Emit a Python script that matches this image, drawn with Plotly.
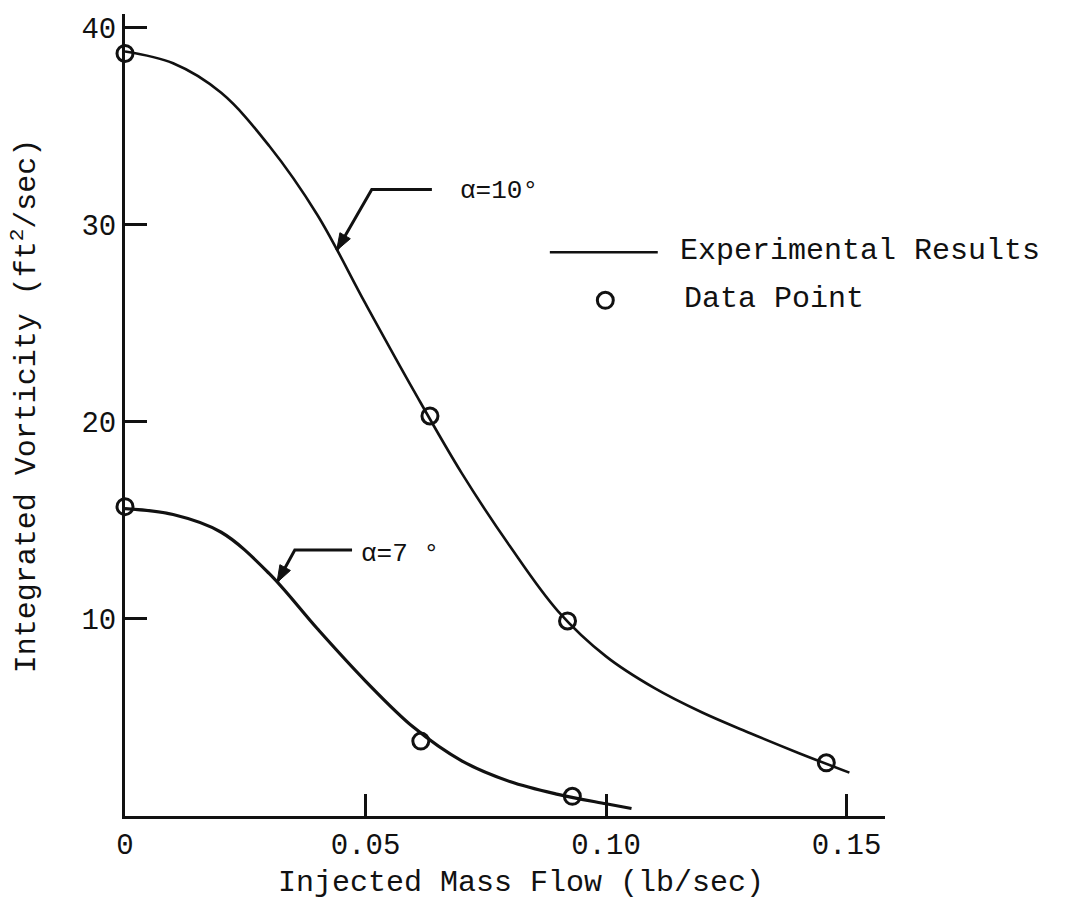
import math
import plotly.graph_objects as go

# Smoothed experimental curves (integrated vorticity vs injected mass flow)
flow_a10 = [0.0, 0.01, 0.02, 0.03, 0.04, 0.05, 0.06, 0.07, 0.08,
            0.09, 0.10, 0.11, 0.12, 0.13, 0.14, 0.1506]
vort_a10 = [38.8, 38.2, 36.7, 34.0, 30.5, 26.0, 21.6, 17.4, 13.7,
            10.4, 8.1, 6.5, 5.25, 4.2, 3.2, 2.2]

flow_a7 = [0.0, 0.01, 0.02, 0.03, 0.04, 0.05, 0.06, 0.07, 0.08,
           0.09, 0.10, 0.1053]
vort_a7 = [15.6, 15.3, 14.4, 12.3, 9.5, 6.85, 4.5, 2.8, 1.75,
           1.1, 0.62, 0.38]

# Measured data points
pts_flow_a10 = [0.0, 0.0634, 0.0920, 0.1458]
pts_vort_a10 = [38.7, 20.3, 9.9, 2.7]
pts_flow_a7 = [0.0, 0.0615, 0.0930]
pts_vort_a7 = [15.7, 3.8, 1.0]

# Axis ticks
x_ticks = [0.0, 0.05, 0.10, 0.15]
x_tick_text = ["0", "0.05", "0.10", "0.15"]
y_ticks = [10, 20, 30, 40]
y_tick_text = ["10", "20", "30", "40"]

# Curve labels: arrow tip on the curve, elbow of the leader, end of the leader, label position
labels = [
    dict(text="α=10°", tip=(0.0440, 28.7), elbow=(0.0513, 31.8), end=(0.0638, 31.8), tx=0.0692, ty=31.7),
    dict(text="α=7 °", tip=(0.0316, 11.85), elbow=(0.0353, 13.5), end=(0.0472, 13.5), tx=0.0486, ty=13.3),
]

X_RANGE = [0, 0.158]
Y_RANGE = [0, 40.7]
W, H = 1075, 905
M = dict(l=125, r=190, t=14, b=89)
PLOT_W = W - M["l"] - M["r"]
PLOT_H = H - M["t"] - M["b"]
SX = PLOT_W / (X_RANGE[1] - X_RANGE[0])   # px per x unit
SY = PLOT_H / (Y_RANGE[1] - Y_RANGE[0])   # px per y unit

MONO = "Courier New, Liberation Mono, monospace"
INK = "#111111"

fig = go.Figure()

for fx, vy, w in [(flow_a10, vort_a10, 2.6), (flow_a7, vort_a7, 3.2)]:
    fig.add_trace(go.Scatter(
        x=fx, y=vy, mode="lines", line=dict(color=INK, width=w, shape="spline", smoothing=1.0),
        showlegend=False, cliponaxis=False, hoverinfo="skip"))

for fx, vy in [(pts_flow_a10, pts_vort_a10), (pts_flow_a7, pts_vort_a7)]:
    fig.add_trace(go.Scatter(
        x=fx, y=vy, mode="markers",
        marker=dict(symbol="circle-open", size=16, color=INK, line=dict(width=3, color=INK)),
        showlegend=False, cliponaxis=False))

annotations = []
shapes = []
for lab in labels:
    (tx_, ty_), (ex, ey), (nx, ny) = lab["tip"], lab["elbow"], lab["end"]
    # bent leader line: end -> elbow -> tip
    shapes.append(dict(type="path", xref="x", yref="y",
                       path=f"M {nx},{ny} L {ex},{ey} L {tx_},{ty_}",
                       line=dict(color=INK, width=3)))
    # filled arrowhead, sized in screen pixels
    dxp = (tx_ - ex) * SX
    dyp = (ty_ - ey) * SY
    n = math.hypot(dxp, dyp)
    ux, uy = dxp / n, dyp / n
    L, half = 17, 6
    bx, by = -ux * L, -uy * L
    px_, py_ = -uy * half, ux * half
    p1 = (tx_ + (bx + px_) / SX, ty_ + (by + py_) / SY)
    p2 = (tx_ + (bx - px_) / SX, ty_ + (by - py_) / SY)
    shapes.append(dict(type="path", xref="x", yref="y",
                       path=f"M {tx_},{ty_} L {p1[0]},{p1[1]} L {p2[0]},{p2[1]} Z",
                       fillcolor=INK, line=dict(color=INK, width=1)))
    annotations.append(dict(
        x=lab["tx"], y=lab["ty"], xref="x", yref="y", text=lab["text"], showarrow=False,
        xanchor="left", yanchor="middle", font=dict(family=MONO, size=26, color=INK)))

# Key beside the curves
shapes.append(dict(type="line", xref="paper", yref="paper", x0=0.559, x1=0.701, y0=0.703, y1=0.703,
                   line=dict(color=INK, width=2.5)))
shapes.append(dict(type="circle", xref="paper", yref="paper", x0=0.6215, x1=0.6425, y0=0.633, y1=0.653,
                   line=dict(color=INK, width=3)))
annotations.append(dict(x=0.728, y=0.705, xref="paper", yref="paper", text="Experimental Results",
                        showarrow=False, xanchor="left", yanchor="middle",
                        font=dict(family=MONO, size=30, color=INK)))
annotations.append(dict(x=0.733, y=0.645, xref="paper", yref="paper", text="Data Point",
                        showarrow=False, xanchor="left", yanchor="middle",
                        font=dict(family=MONO, size=30, color=INK)))

# Axis titles
annotations.append(dict(x=0.521, y=-0.0835, xref="paper", yref="paper",
                        text="Injected Mass Flow (lb/sec)", showarrow=False,
                        xanchor="center", yanchor="middle",
                        font=dict(family=MONO, size=30, color=INK)))
annotations.append(dict(x=-0.1316, y=0.512, xref="paper", yref="paper",
                        text="Integrated Vorticity (ft<sup>2</sup>/sec)", showarrow=False,
                        textangle=-90, xanchor="center", yanchor="middle",
                        font=dict(family=MONO, size=30, color=INK)))

fig.update_layout(
    width=W, height=H,
    margin=M,
    paper_bgcolor="white", plot_bgcolor="white",
    showlegend=False,
    annotations=annotations, shapes=shapes,
    xaxis=dict(range=X_RANGE, tickvals=x_ticks, ticktext=x_tick_text,
               showline=True, linecolor=INK, linewidth=3, showgrid=False, zeroline=False,
               ticks="inside", ticklen=22, tickwidth=2.5, tickcolor=INK,
               tickfont=dict(family=MONO, size=29, color=INK)),
    yaxis=dict(range=Y_RANGE, tickvals=y_ticks, ticktext=y_tick_text,
               showline=True, linecolor=INK, linewidth=3, showgrid=False, zeroline=False,
               ticks="inside", ticklen=22, tickwidth=2.5, tickcolor=INK,
               tickfont=dict(family=MONO, size=29, color=INK)),
)

fig.write_html("out.html")
